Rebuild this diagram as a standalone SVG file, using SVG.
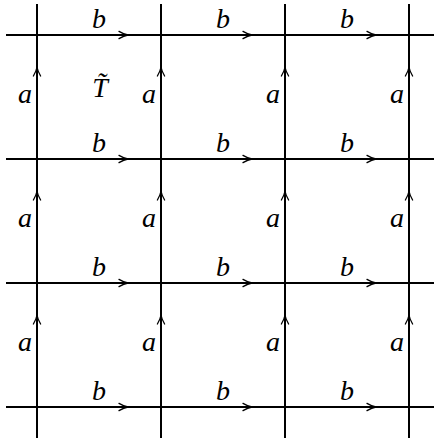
<svg xmlns="http://www.w3.org/2000/svg" xmlns:xlink="http://www.w3.org/1999/xlink" width="434" height="441" viewBox="0 0 434 441">
<style>
.ln{stroke:#000;stroke-width:2;fill:none}
.ah{stroke:#000;stroke-width:1.3;fill:none;stroke-linecap:round}
.lb{font-family:"Liberation Serif","Times New Roman",serif;font-style:italic;font-size:28px;fill:#000;text-anchor:middle}
</style>
<defs>
<path id="arrR" class="ah" d="M-9,-3.6 Q-4,-0.6 0,0 Q-4,0.6 -9,3.6"/>
<path id="arrU" class="ah" d="M-3.6,9 Q-0.6,4 0,0 Q0.6,4 3.6,9"/>
</defs>
<rect width="434" height="441" fill="#fff"/>
<g id="connectors">
<g id="horizontal">
<line class="ln" x1="6" y1="35" x2="440" y2="35"/>
<line class="ln" x1="6" y1="159" x2="440" y2="159"/>
<line class="ln" x1="6" y1="283" x2="440" y2="283"/>
<line class="ln" x1="6" y1="407" x2="440" y2="407"/>
</g>
<g id="vertical">
<line class="ln" x1="37" y1="4" x2="37" y2="438"/>
<line class="ln" x1="161" y1="4" x2="161" y2="438"/>
<line class="ln" x1="285" y1="4" x2="285" y2="438"/>
<line class="ln" x1="409" y1="4" x2="409" y2="438"/>
</g>
<g id="arrows-b">
<use xlink:href="#arrR" x="128" y="35"/><use xlink:href="#arrR" x="252" y="35"/><use xlink:href="#arrR" x="376" y="35"/>
<use xlink:href="#arrR" x="128" y="159"/><use xlink:href="#arrR" x="252" y="159"/><use xlink:href="#arrR" x="376" y="159"/>
<use xlink:href="#arrR" x="128" y="283"/><use xlink:href="#arrR" x="252" y="283"/><use xlink:href="#arrR" x="376" y="283"/>
<use xlink:href="#arrR" x="128" y="407"/><use xlink:href="#arrR" x="252" y="407"/><use xlink:href="#arrR" x="376" y="407"/>
</g>
<g id="arrows-a">
<use xlink:href="#arrU" x="37" y="67"/><use xlink:href="#arrU" x="161" y="67"/><use xlink:href="#arrU" x="285" y="67"/><use xlink:href="#arrU" x="409" y="67"/>
<use xlink:href="#arrU" x="37" y="191"/><use xlink:href="#arrU" x="161" y="191"/><use xlink:href="#arrU" x="285" y="191"/><use xlink:href="#arrU" x="409" y="191"/>
<use xlink:href="#arrU" x="37" y="315"/><use xlink:href="#arrU" x="161" y="315"/><use xlink:href="#arrU" x="285" y="315"/><use xlink:href="#arrU" x="409" y="315"/>
</g>
</g>
<g id="labels-b">
<text class="lb" x="99" y="28">b</text><text class="lb" x="223" y="28">b</text><text class="lb" x="347" y="28">b</text>
<text class="lb" x="99" y="152">b</text><text class="lb" x="223" y="152">b</text><text class="lb" x="347" y="152">b</text>
<text class="lb" x="99" y="276">b</text><text class="lb" x="223" y="276">b</text><text class="lb" x="347" y="276">b</text>
<text class="lb" x="99" y="400">b</text><text class="lb" x="223" y="400">b</text><text class="lb" x="347" y="400">b</text>
</g>
<g id="labels-a">
<text class="lb" x="25" y="102.5">a</text><text class="lb" x="149" y="102.5">a</text><text class="lb" x="273" y="102.5">a</text><text class="lb" x="397" y="102.5">a</text>
<text class="lb" x="25" y="226.5">a</text><text class="lb" x="149" y="226.5">a</text><text class="lb" x="273" y="226.5">a</text><text class="lb" x="397" y="226.5">a</text>
<text class="lb" x="25" y="350.5">a</text><text class="lb" x="149" y="350.5">a</text><text class="lb" x="273" y="350.5">a</text><text class="lb" x="397" y="350.5">a</text>
</g>
<g id="cell-T">
<text class="lb" x="100" y="97">T̃</text>
</g>
</svg>
